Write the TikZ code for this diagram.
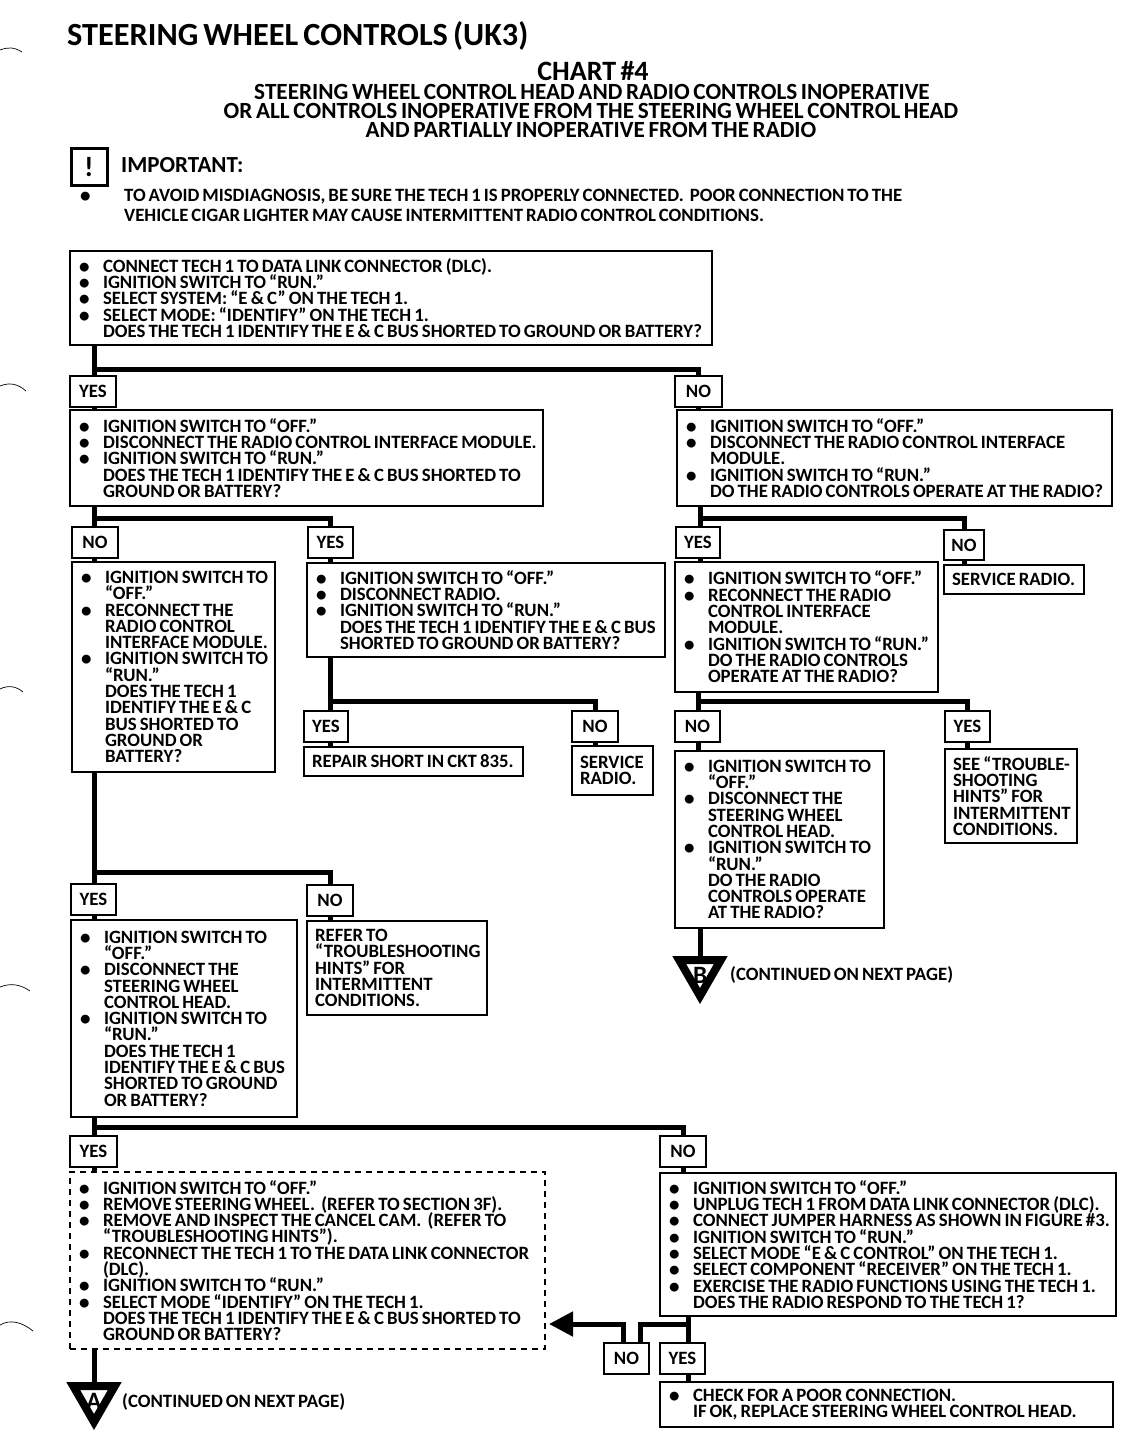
\documentclass[tikz,border=0pt]{standalone}
\usepackage{fontspec}
\setmainfont{Carlito}[WordSpace=0.7]
\usetikzlibrary{arrows.meta,shapes.geometric}
\newcommand{\bul}{\makebox[25pt][l]{\hspace*{1pt}\raisebox{-1pt}{\fontsize{21}{16}\selectfont\textbullet}}}
\newcommand{\ind}{\hspace*{25pt}}
\begin{document}
\begin{tikzpicture}[
    x=1pt, y=-1pt,
    chartfont/.style={font=\fontsize{18.8}{16.3}\selectfont\bfseries},
    box/.style 2 args={rectangle, draw, line width=1.6pt, anchor=north west, outer sep=0pt, inner xsep=4pt, inner ysep=0pt,
        minimum width=#1pt, minimum height=#2pt, text width=#1pt-8pt, align=left, chartfont,
        execute at begin node={\spaceskip=.165em plus .1em\relax\leftskip=4pt\relax\lineskiplimit=-20pt\relax}},
    answer/.style 2 args={rectangle, draw, line width=1.6pt, anchor=north west, outer sep=0pt, inner sep=0pt,
        minimum width=#1pt, minimum height=#2pt, chartfont},
    link/.style={line width=5pt, draw=black},
    offpage/.style={regular polygon, regular polygon sides=3, shape border rotate=180, draw, line width=8pt,
        minimum size=48pt, inner sep=0pt, outer sep=0pt},
    letter/.style={inner sep=0pt, yshift=-3pt, font=\fontsize{25}{25}\selectfont\bfseries},
    plain/.style={anchor=west, inner sep=0pt, font=\fontsize{18.8}{16.3}\selectfont\bfseries},
    headline/.style={inner sep=0pt, font=\fontsize{23.2}{19}\selectfont\bfseries},
    scanmark/.style={line width=0.7pt},
]
\useasboundingbox (0,0) rectangle (1136,1456);

% marks on the margin
\draw[scanmark] (0,50) .. controls (8,47) and (14,47) .. (22,52);
\draw[scanmark] (0,386) .. controls (10,382) and (18,384) .. (26,391);
\draw[scanmark] (0,689) .. controls (8,685) and (16,686) .. (23,692);
\draw[scanmark] (0,987) .. controls (10,983) and (20,984) .. (30,991);
\draw[scanmark] (0,1325) .. controls (10,1319) and (22,1322) .. (33,1331);

\node[anchor=west, inner sep=0pt, font=\fontsize{32.3}{32}\selectfont\bfseries] (title) at (67,36) {STEERING WHEEL CONTROLS (UK3)};
\node[inner sep=0pt, font=\fontsize{28}{28}\selectfont\bfseries] (chart) at (593,71) {CHART \#4};
\node[headline] (head1) at (592,92) {STEERING WHEEL CONTROL HEAD AND RADIO CONTROLS INOPERATIVE};
\node[headline] (head2) at (591,111) {OR ALL CONTROLS INOPERATIVE FROM THE STEERING WHEEL CONTROL HEAD};
\node[headline] (head3) at (591,130) {AND PARTIALLY INOPERATIVE FROM THE RADIO};

\node[draw, line width=3pt, minimum width=36pt, minimum height=37pt, inner sep=0pt, font=\fontsize{28}{28}\selectfont\bfseries] (icon) at (89,167) {!};
\node[plain, font=\fontsize{23}{23}\selectfont\bfseries] (important) at (121,165) {IMPORTANT:};
\node[plain] (dot) at (79,197) {\bul};
\node[plain] (note1) at (124,197) {TO AVOID MISDIAGNOSIS, BE SURE THE TECH 1 IS PROPERLY CONNECTED.\ \ POOR CONNECTION TO THE};
\node[plain] (note2) at (124,215) {VEHICLE CIGAR LIGHTER MAY CAUSE INTERMITTENT RADIO CONTROL CONDITIONS.};

% first test
\node[box={642}{94}] (main) at (70,251) {\bul CONNECT TECH 1 TO DATA LINK CONNECTOR (DLC).\\\bul IGNITION SWITCH TO “RUN.”\\\bul SELECT SYSTEM: “E \& C” ON THE TECH 1.\\\bul SELECT MODE: “IDENTIFY” ON THE TECH 1.\\\ind DOES THE TECH 1 IDENTIFY THE E \& C BUS SHORTED TO GROUND OR BATTERY?};
\node[answer={46}{31}] (yesa) at (70,376) {YES};
\node[answer={47}{31}] (noa) at (675,376) {NO};
\node[box={473}{96}] (busl) at (70,410) {\bul IGNITION SWITCH TO “OFF.”\\\bul DISCONNECT THE RADIO CONTROL INTERFACE MODULE.\\\bul IGNITION SWITCH TO “RUN.”\\\ind DOES THE TECH 1 IDENTIFY THE E \& C BUS SHORTED TO\\\ind GROUND OR BATTERY?};
\node[box={435}{96}] (radr) at (677,410) {\bul IGNITION SWITCH TO “OFF.”\\\bul DISCONNECT THE RADIO CONTROL INTERFACE\\\ind MODULE.\\\bul IGNITION SWITCH TO “RUN.”\\\ind DO THE RADIO CONTROLS OPERATE AT THE RADIO?};

% left branch
\node[answer={46}{31}] (nob) at (72,527) {NO};
\node[answer={45}{31}] (yesb) at (308,527) {YES};
\node[box={203}{210}] (recon) at (72,562) {\bul IGNITION SWITCH TO\\\ind “OFF.”\\\bul RECONNECT THE\\\ind RADIO CONTROL\\\ind INTERFACE MODULE.\\\bul IGNITION SWITCH TO\\\ind “RUN.”\\\ind DOES THE TECH 1\\\ind IDENTIFY THE E \& C\\\ind BUS SHORTED TO\\\ind GROUND OR\\\ind BATTERY?};
\node[box={358}{94}] (disc) at (307,563) {\bul IGNITION SWITCH TO “OFF.”\\\bul DISCONNECT RADIO.\\\bul IGNITION SWITCH TO “RUN.”\\\ind DOES THE TECH 1 IDENTIFY THE E \& C BUS\\\ind SHORTED TO GROUND OR BATTERY?};
\node[answer={44}{31}] (yesd) at (304,711) {YES};
\node[answer={46}{31}] (nod) at (572,711) {NO};
\node[box={219}{29}] (repair) at (304,747) {REPAIR SHORT IN CKT 835.};
\node[box={81}{49}] (service) at (572,746) {SERVICE\\RADIO.};

% right branch
\node[answer={44}{31}] (yesc) at (676,527) {YES};
\node[answer={40}{30}] (noc) at (944,530) {NO};
\node[box={263}{130}] (reconr) at (675,562) {\bul IGNITION SWITCH TO “OFF.”\\\bul RECONNECT THE RADIO\\\ind CONTROL INTERFACE\\\ind MODULE.\\\bul IGNITION SWITCH TO “RUN.”\\\ind DO THE RADIO CONTROLS\\\ind OPERATE AT THE RADIO?};
\node[box={140}{29}] (servicer) at (944,565) {SERVICE RADIO.};
\node[answer={45}{31}] (noe) at (675,711) {NO};
\node[answer={45}{31}] (yese) at (945,711) {YES};
\node[box={209}{177}] (head) at (675,751) {\bul IGNITION SWITCH TO\\\ind “OFF.”\\\bul DISCONNECT THE\\\ind STEERING WHEEL\\\ind CONTROL HEAD.\\\bul IGNITION SWITCH TO\\\ind “RUN.”\\\ind DO THE RADIO\\\ind CONTROLS OPERATE\\\ind AT THE RADIO?};
\node[box={132}{94}] (hints) at (945,749) {SEE “TROUBLE-\\SHOOTING\\HINTS” FOR\\INTERMITTENT\\CONDITIONS.};
\node[offpage] (markb) at (700,972) {};
\node[letter] (letterb) at (markb) {B};
\node[plain] (contb) at (730,975) {(CONTINUED ON NEXT PAGE)};

% lower left
\node[answer={45}{31}] (yesf) at (71,884) {YES};
\node[answer={46}{31}] (nof) at (307,885) {NO};
\node[box={226}{197}] (wheel) at (71,920) {\bul IGNITION SWITCH TO\\\ind “OFF.”\\\bul DISCONNECT THE\\\ind STEERING WHEEL\\\ind CONTROL HEAD.\\\bul IGNITION SWITCH TO\\\ind “RUN.”\\\ind DOES THE TECH 1\\\ind IDENTIFY THE E \& C BUS\\\ind SHORTED TO GROUND\\\ind OR BATTERY?};
\node[box={180}{94}] (refer) at (307,921) {REFER TO\\“TROUBLESHOOTING\\HINTS” FOR\\INTERMITTENT\\CONDITIONS.};

% bottom
\node[answer={47}{31}] (yesg) at (70,1136) {YES};
\node[answer={46}{31}] (nog) at (660,1136) {NO};
\node[box={475}{177}, dashed, dash pattern=on 6pt off 5pt] (cam) at (70,1172) {\bul IGNITION SWITCH TO “OFF.”\\\bul REMOVE STEERING WHEEL.\ \ (REFER TO SECTION 3F).\\\bul REMOVE AND INSPECT THE CANCEL CAM.\ \ (REFER TO\\\ind “TROUBLESHOOTING HINTS”).\\\bul RECONNECT THE TECH 1 TO THE DATA LINK CONNECTOR\\\ind (DLC).\\\bul IGNITION SWITCH TO “RUN.”\\\bul SELECT MODE “IDENTIFY” ON THE TECH 1.\\\ind DOES THE TECH 1 IDENTIFY THE E \& C BUS SHORTED TO\\\ind GROUND OR BATTERY?};
\node[box={456}{143}] (jumper) at (660,1173) {\bul IGNITION SWITCH TO “OFF.”\\\bul UNPLUG TECH 1 FROM DATA LINK CONNECTOR (DLC).\\\bul CONNECT JUMPER HARNESS AS SHOWN IN FIGURE \#3.\\\bul IGNITION SWITCH TO “RUN.”\\\bul SELECT MODE “E \& C CONTROL” ON THE TECH 1.\\\bul SELECT COMPONENT “RECEIVER” ON THE TECH 1.\\\bul EXERCISE THE RADIO FUNCTIONS USING THE TECH 1.\\\ind DOES THE RADIO RESPOND TO THE TECH 1?};
\node[answer={45}{31}] (noh) at (604,1343) {NO};
\node[answer={45}{31}] (yesh) at (660,1343) {YES};
\node[box={453}{45}] (poor) at (660,1382) {\bul CHECK FOR A POOR CONNECTION.\\\ind IF OK, REPLACE STEERING WHEEL CONTROL HEAD.};
\node[offpage] (marka) at (94,1398) {};
\node[letter] (lettera) at (marka) {A};
\node[plain] (conta) at (122,1402) {(CONTINUED ON NEXT PAGE)};

% junctions
\coordinate (ja) at (94,369);
\coordinate (jb) at (94,518);
\coordinate (jc) at (700,518);
\coordinate (jd) at (330,701);
\coordinate (je) at (698,701);
\coordinate (jf) at (94,872);
\coordinate (jg) at (94,1127);
\coordinate (jh) at (688,1324);

\draw[link] (main.south -| ja) -- (yesa.north -| ja);
\draw[link] (ja) -| (noa.north);
\draw[link] (yesa.south -| ja) -- (busl.north -| ja);
\draw[link] (noa.south) -- (radr.north -| noa);
\draw[link] (busl.south -| jb) -- (nob.north -| jb);
\draw[link] (jb) -| (yesb.north);
\draw[link] (nob.south -| jb) -- (recon.north -| jb);
\draw[link] (yesb.south) -- (disc.north -| yesb);
\draw[link] (radr.south -| jc) -- (yesc.north -| jc);
\draw[link] (jc) -| (noc.north);
\draw[link] (yesc.south -| jc) -- (reconr.north -| jc);
\draw[link] (noc.south) -- (servicer.north -| noc);
\draw[link] (disc.south -| jd) -- (yesd.north -| jd);
\draw[link] (jd) -| (nod.north);
\draw[link] (yesd.south -| jd) -- (repair.north -| jd);
\draw[link] (nod.south) -- (service.north -| nod);
\draw[link] (reconr.south -| je) -- (noe.north -| je);
\draw[link] (je) -| (yese.north);
\draw[link] (noe.south -| je) -- (head.north -| je);
\draw[link] (yese.south) -- (hints.north -| yese);
\draw[link] (head.south -| markb) -- (markb.north);
\draw[link] (recon.south -| jf) -- (yesf.north -| jf);
\draw[link] (jf) -| (nof.north);
\draw[link] (yesf.south -| jf) -- (wheel.north -| jf);
\draw[link] (nof.south) -- (refer.north -| nof);
\draw[link] (wheel.south -| jg) -- (yesg.north -| jg);
\draw[link] (jg) -| (nog.north);
\draw[link] (yesg.south -| jg) -- (cam.north -| jg);
\draw[link] (nog.south) -- (jumper.north -| nog);
\draw[link] (cam.south -| marka) -- (marka.north);
\draw[link] (jumper.south -| jh) -- (yesh.north -| jh);
\draw[link] (jh) -| ([xshift=14pt]noh.north);
\draw[link] (yesh.south -| jh) -- (poor.north -| jh);
\draw[link, -{Triangle[length=24pt,width=24pt]}] ([xshift=-3pt]noh.north) |- ([xshift=4pt]cam.east |- jh);
\end{tikzpicture}
\end{document}
